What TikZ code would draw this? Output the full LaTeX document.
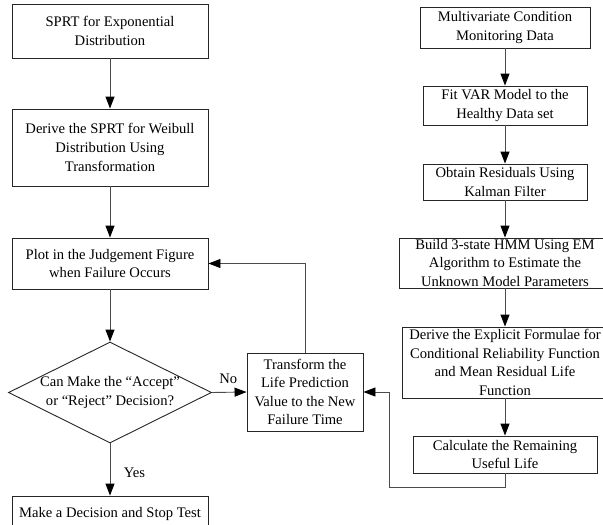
\documentclass[tikz,border=0pt]{standalone}
\usepackage{fontspec}
\setmainfont{Liberation Serif}
\usetikzlibrary{arrows.meta,shapes.geometric}
\begin{document}
\begin{tikzpicture}[x=1pt,y=-1pt,
  every node/.style={font=\fontsize{14.6pt}{18.6pt}\selectfont, text=black},
  box/.style={draw=black!85, line width=0.9pt, inner sep=0pt, align=center},
  arr/.style={draw=black!70, line width=0.9pt, -{Triangle[width=9pt,length=12pt,fill=black,color=black]}},
  conn/.style={draw=black!70, line width=0.9pt}]
\useasboundingbox (0,0) rectangle (603,525);
% left column
\node[box, minimum width=196pt, minimum height=54pt] (b1) at (110,31) {SPRT for Exponential\\Distribution};
\node[box, minimum width=196pt, minimum height=77pt] (b2) at (110,147.5) {Derive the SPRT for Weibull\\Distribution Using\\Transformation};
\node[box, minimum width=196pt, minimum height=51pt] (b3) at (110,263.5) {Plot in the Judgement Figure\\when Failure Occurs};
\node[diamond, draw=black!85, line width=0.9pt, inner sep=0pt, minimum width=203pt, minimum height=101pt,
  label={[align=center]center:Can Make the “Accept”\\or “Reject” Decision?}] (d) at (110,392.5) {};
\node[box, minimum width=196pt, minimum height=36pt] (b4) at (110,514) {Make a Decision and Stop Test};
\node[box, minimum width=116pt, minimum height=78pt] (b5) at (305,392) {Transform the\\Life Prediction\\Value to the New\\Failure Time};
% right column
\node[box, minimum width=170pt, minimum height=41pt] (r1) at (505,27.5) {Multivariate Condition\\Monitoring Data};
\node[box, minimum width=164pt, minimum height=39pt] (r2) at (505,105.5) {Fit VAR Model to the\\Healthy Data set};
\node[box, minimum width=164pt, minimum height=36pt] (r3) at (505,182) {Obtain Residuals Using\\Kalman Filter};
\node[box, minimum width=212pt, minimum height=50pt] (r4) at (505,263) {Build 3-state HMM Using EM\\Algorithm to Estimate the\\Unknown Model Parameters};
\node[box, minimum width=206pt, minimum height=71pt] (r5) at (505,362.5) {Derive the Explicit Formulae for\\Conditional Reliability Function\\and Mean Residual Life\\Function};
\node[box, minimum width=184pt, minimum height=37pt] (r6) at (505,454.5) {Calculate the Remaining\\Useful Life};
% connectors left
\draw[arr] (b1) -- (b2);
\draw[arr] (b2) -- (b3);
\draw[arr] (b3) -- (d.north);
\draw[arr] (d.south) -- node[right, xshift=10pt, yshift=-3pt] (yes) {Yes} (b4);
\draw[arr] (d.east) -- node[above, yshift=5pt, xshift=-1pt] (no) {No} (b5.west);
\draw[arr] (b5.north) |- (b3.east);
% connectors right
\draw[arr] (r1) -- (r2);
\draw[arr] (r2) -- (r3);
\draw[arr] (r3) -- (r4);
\draw[arr] (r4) -- (r5);
\draw[arr] (r5) -- (r6);
\coordinate (c1) at (389,487);
\draw[arr] (r6.south) |- (c1) |- (b5.east);
\end{tikzpicture}
\end{document}
